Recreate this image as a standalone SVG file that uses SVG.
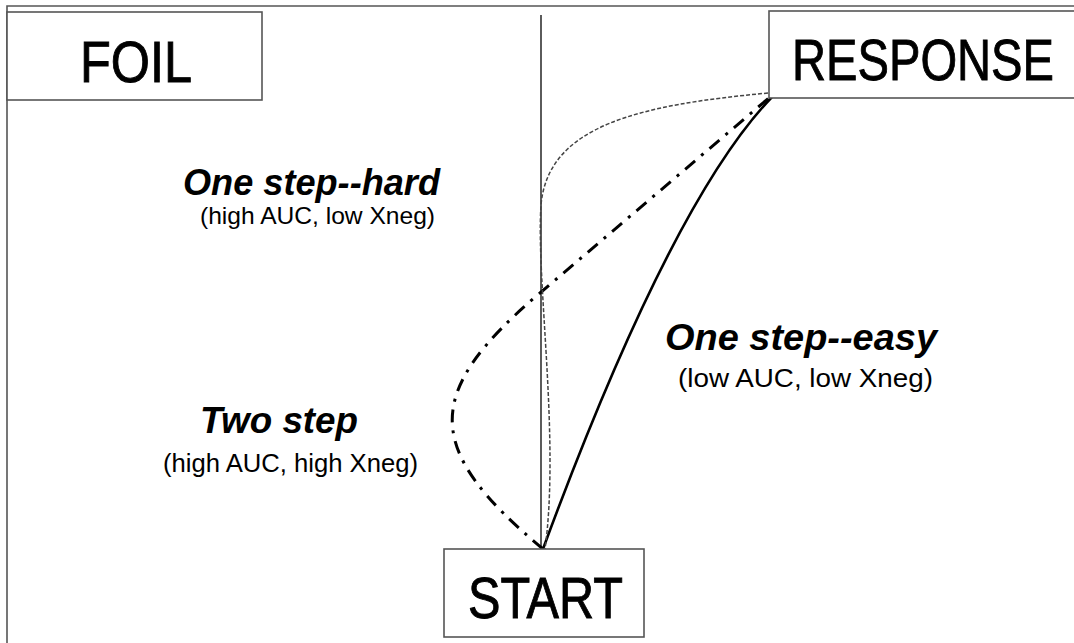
<svg xmlns="http://www.w3.org/2000/svg" width="1074" height="643" viewBox="0 0 1074 643">
<style>
.box{fill:#fff;stroke:#555;stroke-width:1.6}
.big{font-family:"Liberation Sans",Arial,sans-serif;font-size:58px;fill:#000;stroke:#000;stroke-width:0.9;text-anchor:start}
.bi{font-family:"Liberation Sans",Arial,sans-serif;font-weight:bold;font-style:italic;fill:#000}
.rg{font-family:"Liberation Sans",Arial,sans-serif;fill:#000}
.axis{stroke:#333;stroke-width:1.6;fill:none}
</style>
<rect width="1074" height="643" fill="#fff"/>
<g id="frame" fill="none" stroke="#555" stroke-width="1.6">
<path d="M7,643 V6 H1074"/>
</g>
<line class="axis" x1="541" y1="15" x2="541" y2="549"/>
<g id="connectors" fill="none">
<path id="one-step-easy-path" d="M543,549 Q671,202 772,97" stroke="#000" stroke-width="2.6"/>
<path id="two-step-path" d="M543,549 C423,449 422,393 540,293 L770,97" stroke="#000" stroke-width="3" stroke-dasharray="13 8 3 8"/>
<path id="one-step-hard-path" d="M768,93 C640,105 548,125 541,205 C536,280 560,440 545,549" stroke="#444" stroke-width="1.5" stroke-dasharray="4 2"/>
</g>
<g id="foil">
<rect class="box" x="7" y="12" width="255" height="88"/>
<text class="big" x="80" y="82" textLength="112" lengthAdjust="spacingAndGlyphs">FOIL</text>
</g>
<g id="response">
<rect class="box" x="769" y="11" width="306" height="87"/>
<text class="big" x="792" y="80" textLength="262" lengthAdjust="spacingAndGlyphs">RESPONSE</text>
</g>
<g id="start">
<rect class="box" x="444" y="549" width="200" height="88"/>
<text class="big" x="468" y="618" textLength="155" lengthAdjust="spacingAndGlyphs">START</text>
</g>
<g id="label-hard">
<text class="bi" x="183" y="195" font-size="36" textLength="257" lengthAdjust="spacingAndGlyphs">One step--hard</text>
<text class="rg" x="200" y="224" font-size="24" textLength="235" lengthAdjust="spacingAndGlyphs">(high AUC, low Xneg)</text>
</g>
<g id="label-easy">
<text class="bi" x="665" y="350" font-size="37" textLength="272" lengthAdjust="spacingAndGlyphs">One step--easy</text>
<text class="rg" x="678" y="387" font-size="26" textLength="255" lengthAdjust="spacingAndGlyphs">(low AUC, low Xneg)</text>
</g>
<g id="label-two">
<text class="bi" x="200" y="433" font-size="36" textLength="158" lengthAdjust="spacingAndGlyphs">Two step</text>
<text class="rg" x="163" y="472" font-size="25" textLength="255" lengthAdjust="spacingAndGlyphs">(high AUC, high Xneg)</text>
</g>
</svg>
